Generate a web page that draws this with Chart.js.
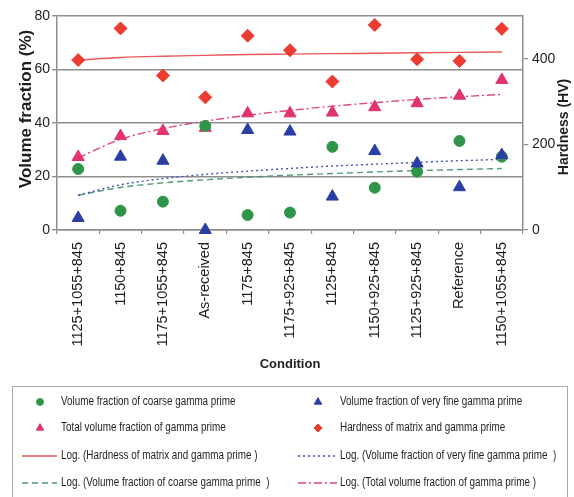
<!DOCTYPE html>
<html>
<head>
<meta charset="utf-8">
<script src="https://cdn.jsdelivr.net/npm/chart.js@4/dist/chart.umd.min.js"></script>
<style>
  html, body { margin: 0; padding: 0; background: #ffffff; }
  #wrap { width: 574px; height: 497px; position: relative; }
</style>
</head>
<body>
<div id="wrap"><canvas id="chart" width="574" height="497"></canvas></div>
<script>
// Heat-treatment conditions along the x axis
const conditions = [
  '1125+1055+845', '1150+845', '1175+1055+845', 'As-received', '1175+845',
  '1175+925+845', '1125+845', '1150+925+845', '1125+925+845', 'Reference', '1150+1055+845'
];

// Measured values (volume fractions in %, hardness in HV)
const coarseFraction = [22.8, 7.2, 10.6, 38.9, 5.6, 6.5, 31.1, 15.8, 21.8, 33.3, 27.4];
const fineFraction   = [4.5, 27.4, 25.9, 0, 37.4, 36.8, 12.5, 29.5, 24.9, 16.0, 28.0];
const totalFraction  = [27.3, 35.1, 37.0, 38.2, 43.6, 43.6, 43.9, 45.9, 47.4, 50.2, 56.1];
const hardness       = [397, 471, 361, 310, 454, 420, 347, 479, 399, 395, 470];

// Logarithmic trend lines, value at each condition
const hardnessLog = [397, 403, 406, 408, 410, 411, 412, 413, 414, 415, 416];
const fineLog     = [13.0, 16.9, 19.2, 20.8, 22.0, 23.0, 23.9, 24.6, 25.3, 25.9, 26.4];
const coarseLog   = [13.0, 15.9, 17.6, 18.8, 19.7, 20.5, 21.1, 21.7, 22.2, 22.6, 23.0];
const totalLog    = [27.0, 33.9, 37.9, 40.7, 42.9, 44.7, 46.3, 47.6, 48.8, 49.8, 50.7];

// Axis tick values
const volumeTicks = [0, 20, 40, 60, 80];
const hardnessTicks = [0, 200, 400];

const SANS = '"Liberation Sans", Arial, sans-serif';
const GRID = '#8e8e8e';
const TEXT = '#1e1e1e';

function markerSet(label, data, style, color, radius, axis, order) {
  return {
    label, data, yAxisID: axis, order,
    showLine: false, clip: false,
    pointStyle: style, pointRadius: radius, pointHoverRadius: radius,
    pointBackgroundColor: color, pointBorderColor: color, pointBorderWidth: 1,
    backgroundColor: color, borderColor: color,
    legendRadius: radius * 0.62
  };
}
function trendSet(label, data, color, dash, axis, order) {
  return {
    label, data, yAxisID: axis, order,
    borderColor: color, backgroundColor: color, borderWidth: 1.4,
    borderDash: dash, pointRadius: 0, pointHoverRadius: 0,
    cubicInterpolationMode: 'monotone', fill: false
  };
}

const datasets = [
  markerSet('Volume fraction of coarse gamma prime', coarseFraction, 'circle', '#2f9548', 5.5, 'y', 1),
  markerSet('Volume fraction of very fine gamma prime', fineFraction, 'triangle', '#2b3ea3', 7, 'y', 0),
  markerSet('Total volume fraction of gamma prime', totalFraction, 'triangle', '#e0336f', 7, 'y', 2),
  markerSet('Hardness of matrix and gamma prime', hardness, 'rectRot', '#ec3c30', 6.5, 'y2', 3),
  trendSet('Log. (Hardness of matrix and gamma prime )', hardnessLog, '#e8585a', [], 'y2', 4),
  trendSet('Log. (Volume fraction of very fine gamma prime  )', fineLog, '#3f50b4', [2, 3], 'y', 5),
  trendSet('Log. (Volume fraction of coarse gamma prime  )', coarseLog, '#4f9a72', [6, 4], 'y', 6),
  trendSet('Log. (Total volume fraction of gamma prime )', totalLog, '#e0457d', [8, 3, 2, 3], 'y', 7)
];

// Condensed text: regular sans squeezed horizontally
function narrowText(ctx, text, x, y, squeeze) {
  ctx.save();
  ctx.translate(x, y);
  ctx.scale(squeeze, 1);
  ctx.fillText(text, 0, 0);
  ctx.restore();
}

// Rotated axis titles and the two-column legend box underneath
const decor = {
  id: 'decor',
  afterDraw(chart) {
    const ctx = chart.ctx;
    ctx.save();
    ctx.fillStyle = TEXT;
    ctx.textAlign = 'center';
    ctx.textBaseline = 'middle';
    ctx.font = 'bold 17px ' + SANS;
    ctx.save(); ctx.translate(26, 109); ctx.rotate(-Math.PI / 2);
    ctx.fillText('Volume fraction (%)', 0, 0); ctx.restore();
    ctx.font = 'bold 14px ' + SANS;
    ctx.save(); ctx.translate(564, 127); ctx.rotate(-Math.PI / 2);
    ctx.fillText('Hardness (HV)', 0, 0); ctx.restore();

    // legend frame
    ctx.strokeStyle = '#a8a8a8';
    ctx.lineWidth = 1;
    ctx.strokeRect(12.5, 386.5, 555, 130);

    const rows = [402, 428, 456, 483];
    const cols = [
      { mx: 40, lx0: 22, lx1: 57, tx: 61 },
      { mx: 318, lx0: 298, lx1: 337, tx: 340 }
    ];
    ctx.textAlign = 'left';
    ctx.font = '12.5px ' + SANS;
    chart.data.datasets.forEach((ds, i) => {
      const y = rows[Math.floor(i / 2)];
      const c = cols[i % 2];
      if (ds.showLine === false) {
        ctx.fillStyle = ds.pointBackgroundColor;
        ctx.strokeStyle = ds.pointBorderColor;
        ctx.lineWidth = 1;
        ctx.setLineDash([]);
        Chart.helpers.drawPoint(ctx, { pointStyle: ds.pointStyle, radius: ds.legendRadius, rotation: 0, borderWidth: 1 }, c.mx, y);
      } else {
        ctx.strokeStyle = ds.borderColor;
        ctx.lineWidth = 1.3;
        ctx.setLineDash(ds.borderDash);
        ctx.beginPath(); ctx.moveTo(c.lx0, y); ctx.lineTo(c.lx1, y); ctx.stroke();
        ctx.setLineDash([]);
      }
      ctx.fillStyle = TEXT;
      narrowText(ctx, ds.label, c.tx, y, 0.79);
    });
    ctx.restore();
  }
};

new Chart(document.getElementById('chart'), {
  type: 'line',
  data: { labels: conditions, datasets },
  plugins: [decor],
  options: {
    responsive: false,
    animation: false,
    events: [],
    layout: { padding: { top: 16, left: 0, right: 0, bottom: 125 } },
    plugins: { legend: { display: false }, tooltip: { enabled: false } },
    scales: {
      x: {
        type: 'category',
        offset: true,
        afterFit(s) { s.height = 142; },
        grid: { display: true, drawOnChartArea: false, drawTicks: true, tickLength: 4, offset: true, color: GRID, lineWidth: 1.2 },
        border: { display: true, color: GRID, width: 1.5 },
        ticks: { autoSkip: false, minRotation: 90, maxRotation: 90, padding: 8, color: TEXT, font: { family: SANS, size: 14.5 } },
        title: { display: true, text: 'Condition', color: TEXT, font: { family: SANS, size: 13, weight: 'bold' }, padding: { top: 0, bottom: 0 } }
      },
      y: {
        position: 'left',
        min: 0, max: 80,
        afterFit(s) { s.width = 57; },
        afterBuildTicks(s) { s.ticks = volumeTicks.map(v => ({ value: v })); },
        grid: { color: GRID, lineWidth: 1.4, tickLength: 5, drawTicks: true },
        border: { display: true, color: GRID, width: 1.5 },
        ticks: { padding: 2, color: TEXT, font: { family: SANS, size: 14 } }
      },
      y2: {
        position: 'right',
        min: 0, max: 500,
        afterFit(s) { s.width = 51; },
        afterBuildTicks(s) { s.ticks = hardnessTicks.map(v => ({ value: v })); },
        grid: { drawOnChartArea: false, drawTicks: true, tickLength: 5, color: GRID, lineWidth: 1.2 },
        border: { display: true, color: GRID, width: 1.5 },
        ticks: { padding: 4, color: TEXT, font: { family: SANS, size: 14 } }
      }
    }
  }
});
</script>
</body>
</html>
